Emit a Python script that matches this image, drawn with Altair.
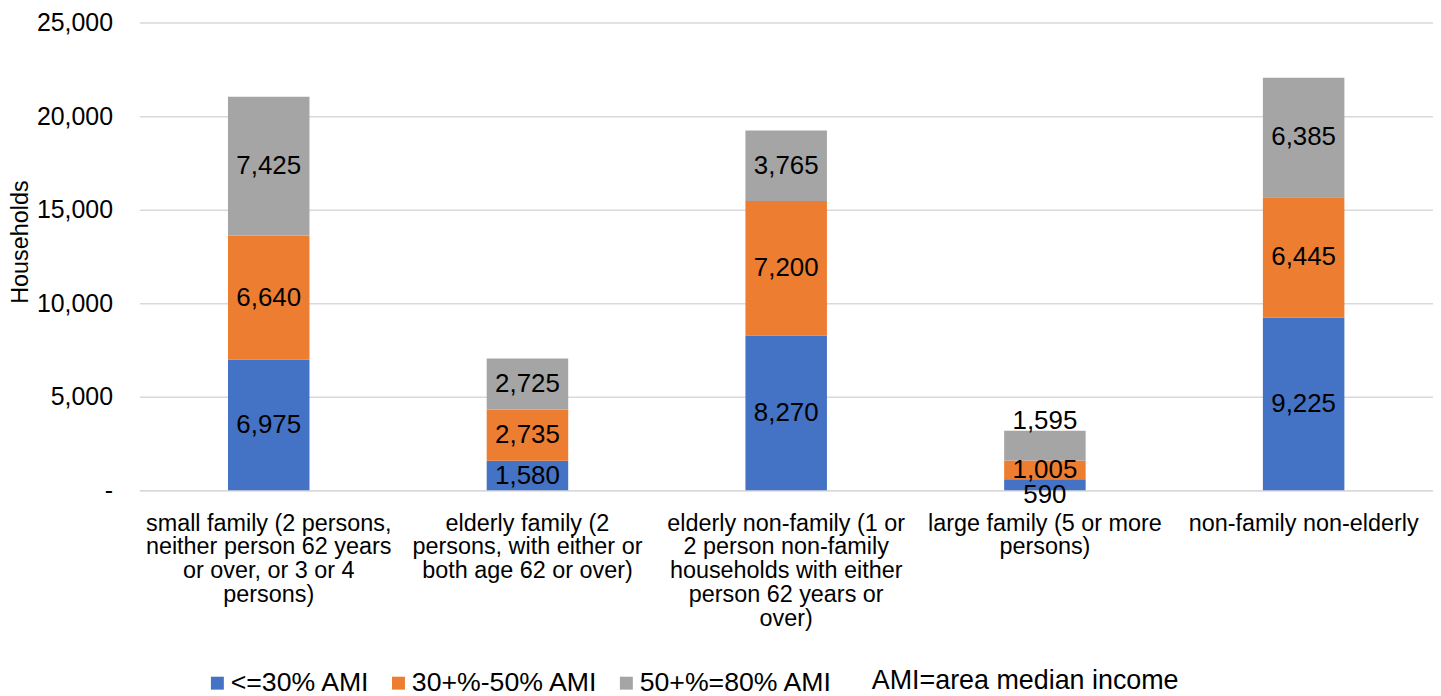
import altair as alt
import pandas as pd

categories = [
    "small family (2 persons,|neither person 62 years|or over, or 3 or 4|persons)",
    "elderly family (2|persons, with either or|both age 62 or over)",
    "elderly non-family (1 or|2 person non-family|households with either|person 62 years or|over)",
    "large family (5 or more|persons)",
    "non-family non-elderly",
]
series = ["<=30% AMI", "30+%-50% AMI", "50+%=80% AMI"]
colors = ["#4472C4", "#ED7D31", "#A5A5A5"]
v_30 = [6975, 1580, 8270, 590, 9225]
v_50 = [6640, 2735, 7200, 1005, 6445]
v_80 = [7425, 2725, 3765, 1595, 6385]
y_ticks = [0, 5000, 10000, 15000, 20000, 25000]

rows = []
for i, c in enumerate(categories):
    for j, (s, vals) in enumerate(zip(series, [v_30, v_50, v_80])):
        rows.append({"category": c, "series": s, "order": j, "value": vals[i]})
df = pd.DataFrame(rows)

FONT = "Liberation Sans"

base = alt.Chart(df).transform_stack(
    stack="value", as_=["y0", "y1"], groupby=["category"], sort=[alt.SortField("order")]
).transform_calculate(
    mid="(datum.y0 + datum.y1) / 2",
    pos="datum.value < 800 ? 'below' : ((datum.order == 2 && datum.value < 2000) ? 'above' : 'center')",
)

x_enc = alt.X(
    "category:N",
    sort=categories,
    title=None,
    scale=alt.Scale(paddingInner=0.685, paddingOuter=0.3425),
    axis=alt.Axis(
        labelExpr="split(datum.label, '|')",
        labelAngle=0,
        labelFontSize=23.5,
        labelLineHeight=24,
        labelPadding=21,
        labelLimit=0,
        labelColor="#000000",
        labelFont=FONT,
        ticks=False,
        domainColor="#D9D9D9",
        domainWidth=1.5,
    ),
)

y_scale = alt.Scale(domain=[0, 25000], nice=False)

bars = base.mark_bar().encode(
    x=x_enc,
    y=alt.Y(
        "y0:Q",
        scale=y_scale,
        title="Households",
        axis=alt.Axis(
            values=y_ticks,
            labelExpr="datum.value == 0 ? '-' : format(datum.value, ',')",
            labelFontSize=25,
            labelFont=FONT,
            labelColor="#000000",
            labelPadding=27,
            domain=False,
            ticks=False,
            gridColor="#D9D9D9",
            gridWidth=1.5,
            titleFont=FONT,
            titleFontSize=23.5,
            titleFontWeight="normal",
            titleColor="#000000",
            titlePadding=4,
            titleY=220,
        ),
    ),
    y2="y1:Q",
    color=alt.Color(
        "series:N",
        scale=alt.Scale(domain=series, range=colors),
        sort=series,
        legend=alt.Legend(
            title=None,
            orient="none",
            direction="horizontal",
            legendX=65,
            legendY=650,
            symbolType="square",
            symbolSize=169,
            symbolStrokeWidth=0,
            labelFontSize=26.8,
            labelFont=FONT,
            labelColor="#000000",
            labelOffset=0,
            columnPadding=15,
            labelLimit=0,
        ),
    ),
)


def label_layer(where, dy):
    return base.transform_filter(alt.datum.pos == where).mark_text(
        fontSize=26, font=FONT, color="#000000", baseline="middle", dy=dy
    ).encode(
        x=alt.X("category:N", sort=categories),
        y=alt.Y("mid:Q", scale=y_scale),
        text=alt.Text("value:Q", format=","),
    )


labels_c = label_layer("center", 0)
labels_a = label_layer("above", -25)
labels_b = label_layer("below", 10)

note = alt.Chart(pd.DataFrame({"t": ["AMI=area median income"]})).mark_text(
    fontSize=27, font=FONT, color="#000000", align="left", baseline="middle"
).encode(x=alt.value(736), y=alt.value(662), text="t:N")

chart = alt.layer(bars, labels_c, labels_a, labels_b, note).properties(
    width=1300,
    height=470,
    autosize=alt.AutoSizeParams(type="none"),
    padding={"left": 132, "top": 13, "right": 0, "bottom": 205},
).configure_view(stroke=None)

chart.save("out.html", embed_options={"renderer": "svg", "actions": False})
